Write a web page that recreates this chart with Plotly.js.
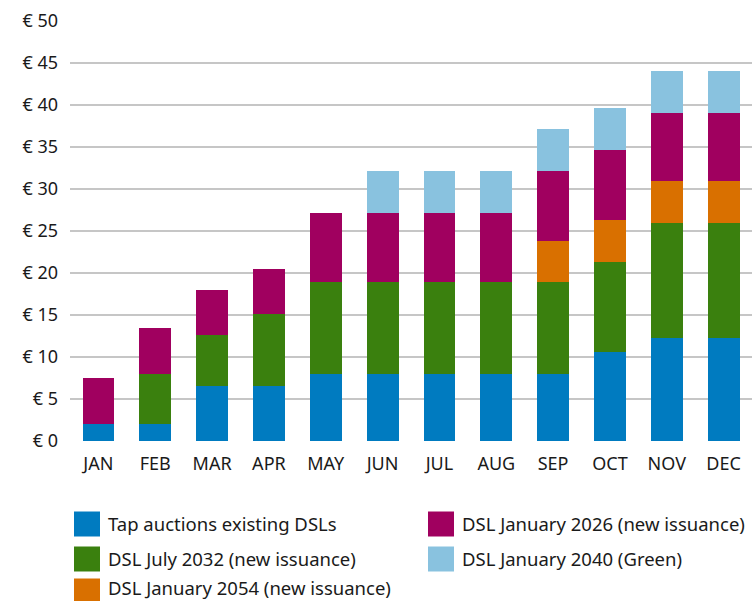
<!DOCTYPE html>
<html>
<head>
<meta charset="utf-8">
<script src="https://cdn.plot.ly/plotly-3.0.1.min.js"></script>
<style>html,body{margin:0;padding:0;background:#fff;}#chart{width:752px;height:601px;}</style>
</head>
<body>
<div id="chart"></div>
<script>
const months = ["JAN","FEB","MAR","APR","MAY","JUN","JUL","AUG","SEP","OCT","NOV","DEC"];
const tapAuctions = [2, 2, 6.6, 6.6, 8, 8, 8, 8, 8, 10.6, 12.3, 12.3];
const dslJul2032  = [0, 6, 6, 8.5, 10.9, 10.9, 10.9, 10.9, 10.9, 10.7, 13.7, 13.7];
const dslJan2054  = [0, 0, 0, 0, 0, 0, 0, 0, 4.9, 5, 4.9, 4.9];
const dslJan2026  = [5.5, 5.4, 5.4, 5.4, 8.3, 8.3, 8.3, 8.3, 8.4, 8.3, 8.2, 8.2];
const dslJan2040  = [0, 0, 0, 0, 0, 5, 5, 5, 5, 5, 5, 5];
const yTicks = [0, 5, 10, 15, 20, 25, 30, 35, 40, 45, 50];
const yTickText = yTicks.map(v => "€ " + v);

const series = [
  {name: "Tap auctions existing DSLs", values: tapAuctions, color: "#007bc0", rank: 1},
  {name: "DSL July 2032 (new issuance)", values: dslJul2032, color: "#3a800e", rank: 3},
  {name: "DSL January 2054 (new issuance)", values: dslJan2054, color: "#d97000", rank: 5},
  {name: "DSL January 2026 (new issuance)", values: dslJan2026, color: "#a0005f", rank: 2},
  {name: "DSL January 2040 (Green)", values: dslJan2040, color: "#89c2df", rank: 4}
];

const FONT = "'Noto Sans', 'Open Sans', sans-serif";
const traces = series.map(s => ({
  type: "bar", x: months, y: s.values, name: s.name,
  marker: {color: s.color, line: {width: 0}},
  showlegend: false, hoverinfo: "x+y+name"
}));

// Plot area geometry (pixels) used to place the custom legend
const W = 752, H = 601, mL = 70, mR = 0, mT = 21, mB = 160;
const pw = W - mL - mR, ph = H - mT - mB;
const px = x => (x - mL) / pw;
const py = y => (H - mB - y) / ph;

const legendOrder = series.slice().sort((a, b) => a.rank - b.rank);
const colX = [74, 428];
const rowY = [524, 559, 591];
const shapes = [], annotations = [];
legendOrder.forEach((s, i) => {
  const c = i % 2, r = Math.floor(i / 2);
  const x0 = colX[c], yc = rowY[r];
  shapes.push({type: "rect", xref: "paper", yref: "paper",
    x0: px(x0), x1: px(x0 + 26), y0: py(Math.min(yc + 12.5, H)), y1: py(yc - 12.5),
    fillcolor: s.color, line: {width: 0}});
  annotations.push({xref: "paper", yref: "paper", x: px(x0 + 33), y: py(Math.min(yc - 1, 587)),
    xanchor: "left", yanchor: "middle", showarrow: false, text: s.name, borderpad: 0,
    font: {family: FONT, size: 18.5, color: "#1a1a1a"}});
});

const layout = {
  width: W, height: H,
  margin: {l: mL, r: mR, t: mT, b: mB, pad: 0},
  paper_bgcolor: "#fff", plot_bgcolor: "#fff",
  barmode: "stack", bargap: 0.44,
  font: {family: FONT, size: 16, color: "#1a1a1a"},
  xaxis: {type: "category", range: [-0.5, 11.5], showgrid: false, zeroline: false,
    showline: false, ticks: "", ticklabelstandoff: 10,
    tickfont: {family: FONT, size: 18, color: "#1a1a1a"}},
  yaxis: {range: [0, 50], tickvals: yTicks, ticktext: yTickText, showgrid: true,
    gridcolor: "#c6c6c6", gridwidth: 1.5, zeroline: false, showline: false, ticks: "",
    ticklabelstandoff: 11, tickfont: {family: FONT, size: 18, color: "#1a1a1a"}},
  shapes: shapes, annotations: annotations, showlegend: false
};

Plotly.newPlot("chart", traces, layout, {displayModeBar: false, staticPlot: true});
</script>
</body>
</html>
